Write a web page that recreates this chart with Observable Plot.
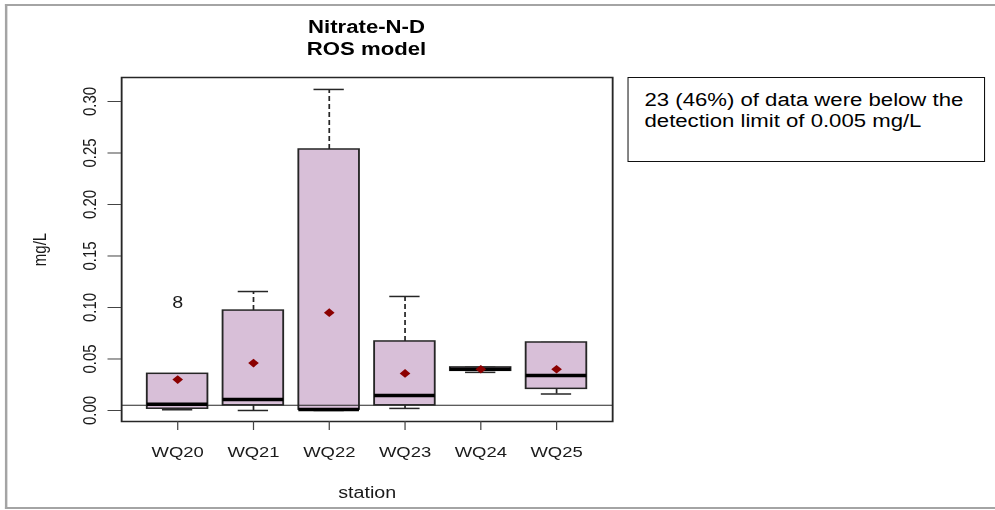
<!DOCTYPE html>
<html>
<head>
<meta charset="utf-8">
<script src="https://cdn.jsdelivr.net/npm/d3@7"></script>
<script src="https://cdn.jsdelivr.net/npm/@observablehq/plot@0.6"></script>
<style>
  html, body { margin: 0; padding: 0; background: #fff; overflow: hidden; }
  #wrap {
    position: relative; width: 809px; height: 510px;
    transform: scaleX(1.23); transform-origin: 0 0;
    font-family: "Liberation Sans", Arial, sans-serif; color: #000;
  }
  #frame {
    position: absolute; left: 4px; top: 4px; width: 900px; height: 501px;
    border-top: 2.5px solid #a4a4a4; border-left: 2px solid #a4a4a4; border-bottom: 2.5px solid #a4a4a4;
  }
  #title {
    position: absolute; left: 198px; width: 200px; top: 16px;
    text-align: center; font-weight: bold; font-size: 18px; line-height: 22px; color: #000;
  }
  #note {
    position: absolute; left: 510px; top: 77px; width: 291px; height: 85px; box-sizing: border-box;
    border: 1.5px solid #111; padding: 12px 0 0 13px;
    font-size: 18px; line-height: 21px; color: #000; background: #fff;
  }
  #chart { position: absolute; left: 0; top: 0; }
</style>
</head>
<body>
<div id="wrap">
  <div id="frame"></div>
  <div id="chart"></div>
  <div id="title">Nitrate-N-D<br>ROS model</div>
  <div id="note">23 (46%) of data were below the<br>detection limit of 0.005 mg/L</div>
</div>
<script>
// ---- data ----
const stations    = ["WQ20", "WQ21", "WQ22", "WQ23", "WQ24", "WQ25"];
const whiskerLow  = [0.0007, 0.0000, 0.0000, 0.0020, 0.0370, 0.0160];
const q1          = [0.0017, 0.0050, 0.0008, 0.0050, 0.0385, 0.0210];
const medians     = [0.0060, 0.0107, 0.0010, 0.0146, 0.0400, 0.0340];
const q3          = [0.0356, 0.0970, 0.2534, 0.0670, 0.0418, 0.0660];
const whiskerHigh = [0.0356, 0.1155, 0.3117, 0.1107, 0.0420, 0.0660];
const means       = [0.0300, 0.0460, 0.0950, 0.0360, 0.0400, 0.0400];
const outlierStations = ["WQ20"];
const outlierValues   = [0.104];
const detectionLimit  = 0.005;
const yTicks = [0, 0.05, 0.10, 0.15, 0.20, 0.25, 0.30];

const rows = stations.map((s, i) => ({
  pos: i + 1, low: whiskerLow[i], q1: q1[i], med: medians[i],
  q3: q3[i], high: whiskerHigh[i], mean: means[i]
}));
const outliers = outlierStations.map((s, i) => ({pos: stations.indexOf(s) + 1, v: outlierValues[i]}));

const ink = "#262626";
const chart = Plot.plot({
  width: 809, height: 510,
  marginLeft: 98.4, marginRight: 311.4, marginTop: 77, marginBottom: 89,
  style: {fontFamily: "'Liberation Sans', Arial, sans-serif", fontSize: "15px", background: "transparent", overflow: "visible"},
  x: {domain: [0.26, 6.74]},
  y: {domain: [-0.0107, 0.3233]},
  marks: [
    // whiskers (dashed)
    Plot.ruleX(rows, {x: "pos", y1: "q3", y2: "high", stroke: ink, strokeWidth: 1.4, strokeDasharray: "5,3"}),
    Plot.ruleX(rows, {x: "pos", y1: "low", y2: "q1", stroke: ink, strokeWidth: 1.4, strokeDasharray: "5,3"}),
    // staples
    Plot.ruleY(rows, {y: "high", x1: d => d.pos - 0.2, x2: d => d.pos + 0.2, stroke: ink, strokeWidth: 1.5}),
    Plot.ruleY(rows, {y: "low", x1: d => d.pos - 0.2, x2: d => d.pos + 0.2, stroke: ink, strokeWidth: 1.5}),
    // boxes
    Plot.rect(rows, {x1: d => d.pos - 0.4, x2: d => d.pos + 0.4, y1: "q1", y2: "q3", fill: "#d8bfd8", stroke: ink, strokeWidth: 1.5}),
    // detection limit line
    Plot.ruleY([detectionLimit], {stroke: ink, strokeWidth: 1}),
    // medians
    Plot.ruleY(rows, {y: "med", x1: d => d.pos - 0.4, x2: d => d.pos + 0.4, stroke: "#000", strokeWidth: 3.5}),
    // means
    Plot.dot(rows, {x: "pos", y: "mean", symbol: "diamond2", fill: "#8b0000", stroke: null, r: 3.9}),
    // outlier
    Plot.text(outliers, {x: "pos", y: "v", text: () => "8", fontSize: 16, fill: "#1a1a1a"}),
    // frame
    Plot.frame({stroke: ink, strokeWidth: 1.5}),
    // axes
    Plot.axisY({ticks: yTicks, tickSize: 11, tickFormat: () => "", label: null, stroke: "#444"}),
    Plot.text(yTicks, {y: d => d, text: d => d.toFixed(2), frameAnchor: "left", dx: -25.6, rotate: -90,
                       textAnchor: "middle", lineAnchor: "middle", fontSize: 15, fill: "#1a1a1a"}),
    Plot.axisX({ticks: [1, 2, 3, 4, 5, 6], tickFormat: d => stations[d - 1], tickSize: 9, tickPadding: 16,
                label: null, fontSize: 15, stroke: "#444", fill: "#1a1a1a"}),
    Plot.text(["mg/L"], {frameAnchor: "left", dx: -66, rotate: -90, text: d => d, textAnchor: "middle",
                         lineAnchor: "middle", fontSize: 15, fill: "#1a1a1a"}),
    Plot.text(["station"], {frameAnchor: "bottom", dy: 71, text: d => d, textAnchor: "middle",
                            lineAnchor: "middle", fontSize: 16, fill: "#1a1a1a"})
  ]
});
document.getElementById("chart").appendChild(chart);
</script>
</body>
</html>
